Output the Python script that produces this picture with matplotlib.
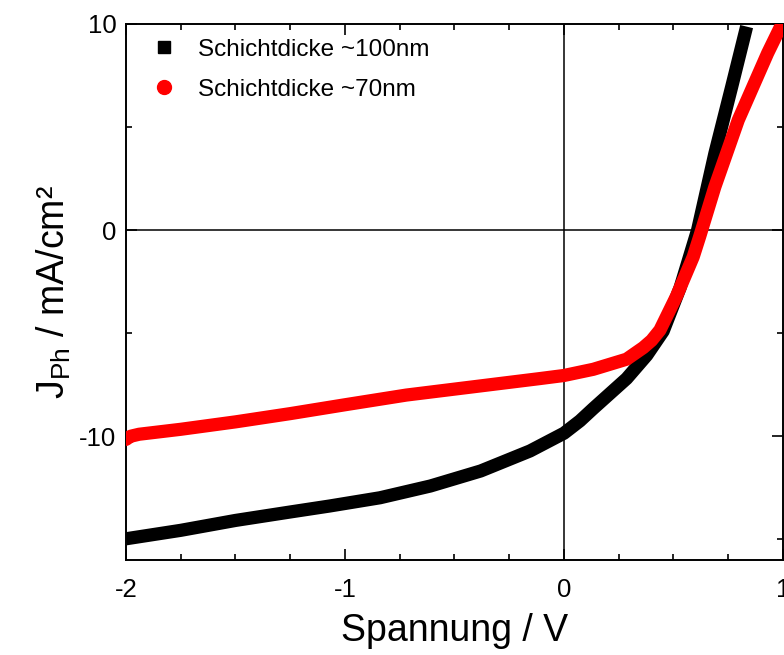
import matplotlib
matplotlib.use('Agg')
import matplotlib.pyplot as plt
from matplotlib.lines import Line2D
from matplotlib.ticker import MultipleLocator

plt.rcParams['font.family'] = ['Liberation Sans', 'DejaVu Sans']
plt.rcParams['mathtext.fontset'] = 'custom'
plt.rcParams['mathtext.rm'] = 'Liberation Sans'
plt.rcParams['mathtext.it'] = 'Liberation Sans'
plt.rcParams['axes.unicode_minus'] = False

v_100 = [-2.0, -1.75, -1.5, -1.25, -1.07, -0.84, -0.61, -0.38, -0.155, 0.0,
         0.073, 0.134, 0.286, 0.378, 0.453, 0.53, 0.61, 0.689, 0.766, 0.834]
j_100 = [-14.97, -14.56, -14.08, -13.67, -13.38, -12.98, -12.41, -11.68, -10.71, -9.85,
         -9.25, -8.65, -7.2, -6.07, -4.9, -2.8, 0.0, 3.72, 6.96, 9.87]

v_70 = [-2.0, -1.98, -1.94, -1.75, -1.5, -1.25, -1.0, -0.72, -0.415, -0.11, 0.0,
        0.134, 0.286, 0.362, 0.40, 0.438, 0.514, 0.59, 0.62, 0.689, 0.796, 0.93, 0.986]
j_70 = [-10.15, -10.0, -9.9, -9.66, -9.3, -8.9, -8.47, -8.0, -7.6, -7.2, -7.05,
        -6.75, -6.26, -5.7, -5.35, -4.85, -3.2, -1.3, -0.3, 2.1, 5.34, 8.58, 9.8]

label_100 = 'Schichtdicke ~100nm'
label_70 = 'Schichtdicke ~70nm'

fig = plt.figure(figsize=(7.84, 6.55), dpi=100)
ax = fig.add_axes([0.1607, 0.145, 0.838, 0.8185])

ax.axhline(0, color='black', lw=1.1, zorder=1)
ax.axvline(0, color='black', lw=1.1, zorder=1)

ax.plot(v_100, j_100, color='black', lw=9.5, solid_capstyle='butt',
        solid_joinstyle='round', zorder=2)
ax.plot(v_70, j_70, color='red', lw=9.5, solid_capstyle='round',
        solid_joinstyle='round', zorder=3)

ax.set_xlim(-2, 1)
ax.set_ylim(-16, 10)
ax.xaxis.set_major_locator(MultipleLocator(1))
ax.xaxis.set_minor_locator(MultipleLocator(0.25))
ax.yaxis.set_major_locator(MultipleLocator(10))
ax.yaxis.set_minor_locator(MultipleLocator(5))

ax.tick_params(which='both', direction='in', top=True, right=True,
               labelsize=18.5, width=1.2)
ax.tick_params(axis='x', pad=13)
ax.tick_params(axis='y', pad=7)
ax.tick_params(which='major', length=8)
ax.tick_params(which='minor', length=4.5)
for s in ax.spines.values():
    s.set_linewidth(1.4)

ax.set_xlabel('Spannung / V', fontsize=27, labelpad=8)
ax.set_ylabel(r'J$_{\mathrm{Ph}}$ / mA/cm²', fontsize=27, labelpad=4)

handles = [Line2D([], [], ls='none', marker='s', color='black', ms=9),
           Line2D([], [], ls='none', marker='o', color='red', ms=10)]
ax.legend(handles, [label_100, label_70], loc='upper left', frameon=False,
          fontsize=17.5, handletextpad=0.45, borderaxespad=0.2,
          labelspacing=0.75, handlelength=1.9)

fig.savefig('out.png', dpi=100)
